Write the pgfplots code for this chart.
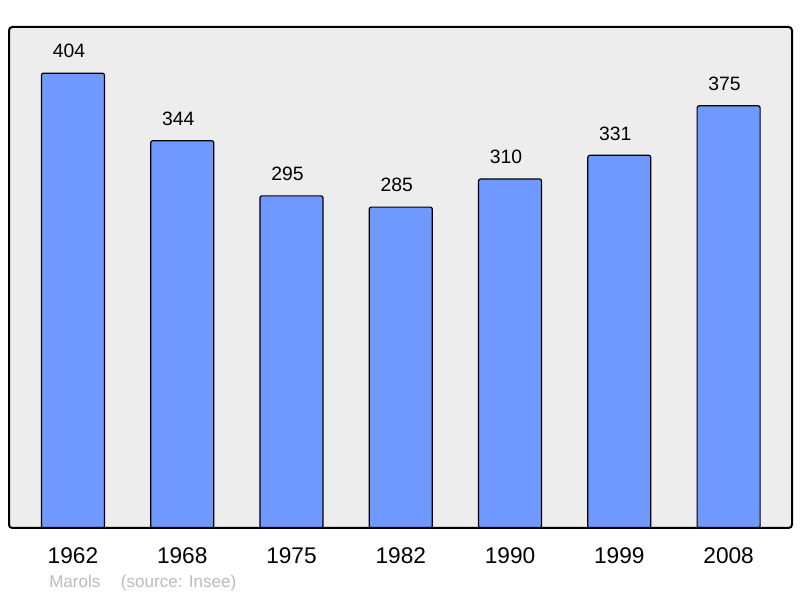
\documentclass[border=0pt]{standalone}
\usepackage{pgfplots}
\pgfplotsset{compat=1.18}
\usepackage{fontspec}
\setmainfont{Liberation Sans}
\definecolor{bgc}{HTML}{EDEDED}
\definecolor{barc}{HTML}{7099FF}
\definecolor{srcc}{HTML}{BBBBBB}
\begin{document}
\begin{tikzpicture}
\useasboundingbox (-6.75pt,-52.5pt) rectangle (593.25pt,396pt);
\begin{axis}[
  at={(0,0)}, anchor=south west,
  scale only axis,
  width=587.25pt, height=375.75pt,
  xmin=-0.585, xmax=6.58,
  ymin=0, ymax=445,
  axis background/.style={fill=bgc, rounded corners=2.5pt},
  axis line style={line width=1.5pt, rounded corners=2.5pt},
  axis on top,
  ytick=\empty,
  xtick=data,
  xticklabels={1962,1968,1975,1982,1990,1999,2008},
  major tick length=0pt,
  /pgf/number format/assume math mode=true,
  xticklabel style={font=\fontsize{17}{20}\selectfont, anchor=base, yshift=-27pt, inner sep=0pt},
  ybar, bar width=47.25pt,
  nodes near coords,
  every node near coord/.append style={font=\fontsize{14.5}{17}\selectfont, anchor=base, yshift=11.5pt, xshift=-3pt, inner sep=0pt},
  clip=false,
]
\addplot[fill=barc, draw=black, line width=0.9pt, rounded corners=1.5pt] coordinates {
  (0,404) (1,344) (2,295) (3,285) (4,310) (5,331) (6,375)
};
\end{axis}
\node[anchor=base west, inner sep=0pt, text=srcc, font=\fontsize{12.8}{15}\selectfont] at (30pt,-45pt) {Marols\hspace{1.2em}(source: Insee)};
\end{tikzpicture}
\end{document}
